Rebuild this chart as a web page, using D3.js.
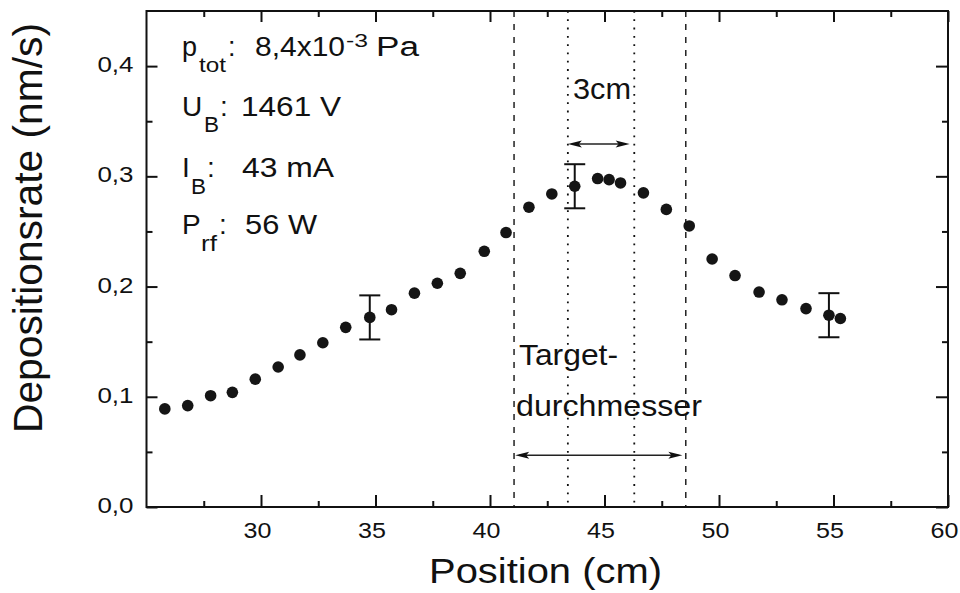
<!DOCTYPE html>
<html>
<head>
<meta charset="utf-8">
<script src="https://cdn.jsdelivr.net/npm/d3@7"></script>
<style>
  html, body { margin: 0; padding: 0; background: #fff; }
  svg { display: block; }
  text { font-family: "Liberation Sans", Arial, sans-serif; fill: #111; }
</style>
</head>
<body>
<svg id="chart" width="960" height="593"></svg>
<script>
// Deposition rate along the substrate position
const positions = [25.8, 26.8, 27.8, 28.75, 29.75, 30.75, 31.7, 32.7, 33.7, 34.75, 35.7, 36.7, 37.7, 38.7, 39.75,
                   40.7, 41.7, 42.7, 43.7, 44.7, 45.2, 45.7, 46.7, 47.7, 48.7, 49.7, 50.7, 51.75, 52.75, 53.8, 54.8, 55.3];
const rates = [0.089, 0.092, 0.101, 0.104, 0.116, 0.127, 0.138, 0.149, 0.163, 0.172, 0.179, 0.194, 0.203, 0.212, 0.232,
               0.249, 0.272, 0.284, 0.291, 0.298, 0.297, 0.294, 0.285, 0.270, 0.255, 0.225, 0.210, 0.195, 0.188, 0.180, 0.174, 0.171];

// Representative error bars
const errPositions = [34.75, 43.7, 54.8];
const errRates = [0.172, 0.291, 0.174];
const errSizes = [0.02, 0.02, 0.02];

// Target diameter (dashed) and 3 cm zone (dotted)
const targetEdges = [41.05, 48.55];
const zoneEdges = [43.4, 46.3];

const xTicks = [30, 35, 40, 45, 50, 55, 60];
const xMinorTicks = [27.5, 32.5, 37.5, 42.5, 47.5, 52.5, 57.5];
const yTicks = [0.0, 0.1, 0.2, 0.3, 0.4];
const yMinorTicks = [0.05, 0.15, 0.25, 0.35];
const yTickLabels = ["0,0", "0,1", "0,2", "0,3", "0,4"];

const xTitle = "Position (cm)";
const yTitle = "Depositionsrate (nm/s)";

(function draw() {
  const svg = d3.select("#chart");
  const pLeft = 146.5, pRight = 948, pTop = 11, pBottom = 507;

  const x = d3.scaleLinear().domain([25, 60]).range([pLeft, pRight]);
  const y = d3.scaleLinear().domain([0, 0.45]).range([pBottom, pTop]);

  // Stretch text along its writing direction
  function widen(sel, k) {
    sel.each(function () {
      const w = this.getComputedTextLength();
      this.setAttribute("textLength", w * k);
      this.setAttribute("lengthAdjust", "spacingAndGlyphs");
    });
  }
  function fitTo(sel, w) {
    sel.attr("textLength", w).attr("lengthAdjust", "spacingAndGlyphs");
  }

  // Reference lines
  const g = svg.append("g");
  g.selectAll("line.target").data(targetEdges).join("line").attr("class", "target")
    .attr("x1", d => x(d)).attr("x2", d => x(d))
    .attr("y1", y(0.45)).attr("y2", y(0))
    .attr("stroke", "#111").attr("stroke-width", 1.4).attr("stroke-dasharray", "6,7");
  g.selectAll("line.zone").data(zoneEdges).join("line").attr("class", "zone")
    .attr("x1", d => x(d)).attr("x2", d => x(d))
    .attr("y1", y(0.45)).attr("y2", y(0))
    .attr("stroke", "#111").attr("stroke-width", 1.8).attr("stroke-dasharray", "1.8,6.5");

  // Double-headed arrows
  function arrow(x0, x1, yv) {
    const a = x(x0), b = x(x1), yy = y(yv), L = 14, H = 3.5;
    g.append("line").attr("x1", a + 4).attr("x2", b - 4).attr("y1", yy).attr("y2", yy)
      .attr("stroke", "#222").attr("stroke-width", 1.6);
    g.append("path").attr("d", `M${a},${yy}L${a + L},${yy - H}L${a + L - 3},${yy}L${a + L},${yy + H}Z`).attr("fill", "#111");
    g.append("path").attr("d", `M${b},${yy}L${b - L},${yy - H}L${b - L + 3},${yy}L${b - L},${yy + H}Z`).attr("fill", "#111");
  }
  arrow(43.4, 46.1, 0.3293);
  arrow(41.1, 48.4, 0.0469);

  // Error bars
  const eb = g.selectAll("g.err").data(errPositions.map((p, i) => ({ p, v: errRates[i], e: errSizes[i] })))
    .join("g").attr("class", "err");
  eb.append("line").attr("x1", d => x(d.p)).attr("x2", d => x(d.p))
    .attr("y1", d => y(d.v + d.e)).attr("y2", d => y(d.v - d.e)).attr("stroke", "#111").attr("stroke-width", 2);
  eb.append("line").attr("x1", d => x(d.p) - 10.5).attr("x2", d => x(d.p) + 10.5)
    .attr("y1", d => y(d.v + d.e)).attr("y2", d => y(d.v + d.e)).attr("stroke", "#111").attr("stroke-width", 2);
  eb.append("line").attr("x1", d => x(d.p) - 10.5).attr("x2", d => x(d.p) + 10.5)
    .attr("y1", d => y(d.v - d.e)).attr("y2", d => y(d.v - d.e)).attr("stroke", "#111").attr("stroke-width", 2);

  // Data points
  g.selectAll("circle").data(positions.map((p, i) => ({ p, v: rates[i] }))).join("circle")
    .attr("cx", d => x(d.p)).attr("cy", d => y(d.v)).attr("r", 5.8).attr("fill", "#151515");

  // Axes on all four sides, ticks pointing inward
  function drawAxis(axis, transform) {
    const ag = svg.append("g").attr("transform", transform).call(axis);
    ag.select(".domain").remove();
    ag.selectAll(".tick line").attr("stroke", "#111").attr("stroke-width", 2);
    return ag;
  }
  const xb = drawAxis(d3.axisBottom(x).tickValues(xTicks).tickSize(-12).tickPadding(0).tickFormat(d3.format("d")), `translate(0,${pBottom})`);
  xb.selectAll("text").attr("font-size", 22).attr("y", 31).attr("dy", 0).attr("dx", -4).attr("fill", "#111");
  widen(xb.selectAll("text"), 1.14);
  drawAxis(d3.axisBottom(x).tickValues(xMinorTicks).tickSize(-6).tickFormat(""), `translate(0,${pBottom})`);
  drawAxis(d3.axisTop(x).tickValues(xTicks).tickSize(-11).tickFormat(""), `translate(0,${pTop})`);
  drawAxis(d3.axisTop(x).tickValues(xMinorTicks).tickSize(-6).tickFormat(""), `translate(0,${pTop})`);

  const yl = drawAxis(d3.axisLeft(y).tickValues(yTicks).tickSize(-11).tickPadding(0).tickFormat((d, i) => yTickLabels[i]), `translate(${pLeft},0)`);
  yl.selectAll("text").attr("font-size", 22).attr("x", -13).attr("dy", 5.5).attr("fill", "#111");
  widen(yl.selectAll("text"), 1.18);
  drawAxis(d3.axisLeft(y).tickValues(yMinorTicks).tickSize(-6).tickFormat(""), `translate(${pLeft},0)`);
  drawAxis(d3.axisRight(y).tickValues(yTicks).tickSize(-12).tickFormat(""), `translate(${pRight},0)`);
  drawAxis(d3.axisRight(y).tickValues(yMinorTicks).tickSize(-6).tickFormat(""), `translate(${pRight},0)`);

  // Frame
  svg.append("rect").attr("x", pLeft).attr("y", pTop).attr("width", pRight - pLeft).attr("height", pBottom - pTop)
    .attr("fill", "none").attr("stroke", "#111").attr("stroke-width", 2);

  // Axis titles
  const xt = svg.append("text").attr("x", 429).attr("y", 583).attr("font-size", 35).text(xTitle);
  fitTo(xt, 233);
  const yt = svg.append("text").attr("transform", "translate(42,433) rotate(-90)").attr("font-size", 40).text(yTitle);
  fitTo(yt, 410);

  // Process parameters
  function piece(px, py, size, str, w) {
    const t = svg.append("text").attr("x", px).attr("y", py).attr("font-size", size).text(str);
    if (w) fitTo(t, w);
    return t;
  }
  piece(182, 56, 27, "p");
  piece(199, 72, 21, "tot", 27);
  piece(228, 56, 27, ":");
  piece(255, 56, 27, "8,4x10", 90);
  piece(346, 47, 18, "-3", 22);
  piece(376, 56, 27, "Pa", 43);

  piece(182, 116, 28, "U");
  piece(204, 132, 22, "B", 15);
  piece(220, 116, 28, ":");
  piece(241, 116, 28, "1461 V", 100);

  piece(182, 177, 28, "I");
  piece(191, 194, 22, "B", 15);
  piece(207, 177, 28, ":");
  piece(242, 177, 28, "43 mA", 92);

  piece(182, 234, 28, "P");
  piece(201, 251, 22, "rf", 16);
  piece(219, 234, 28, ":");
  piece(245, 234, 28, "56 W", 72);

  // Annotations for the marked zones
  piece(573, 99, 30, "3cm", 58);
  piece(519, 365, 30, "Target-", 99);
  piece(516, 416, 30, "durchmesser", 186);
})();
</script>
</body>
</html>
